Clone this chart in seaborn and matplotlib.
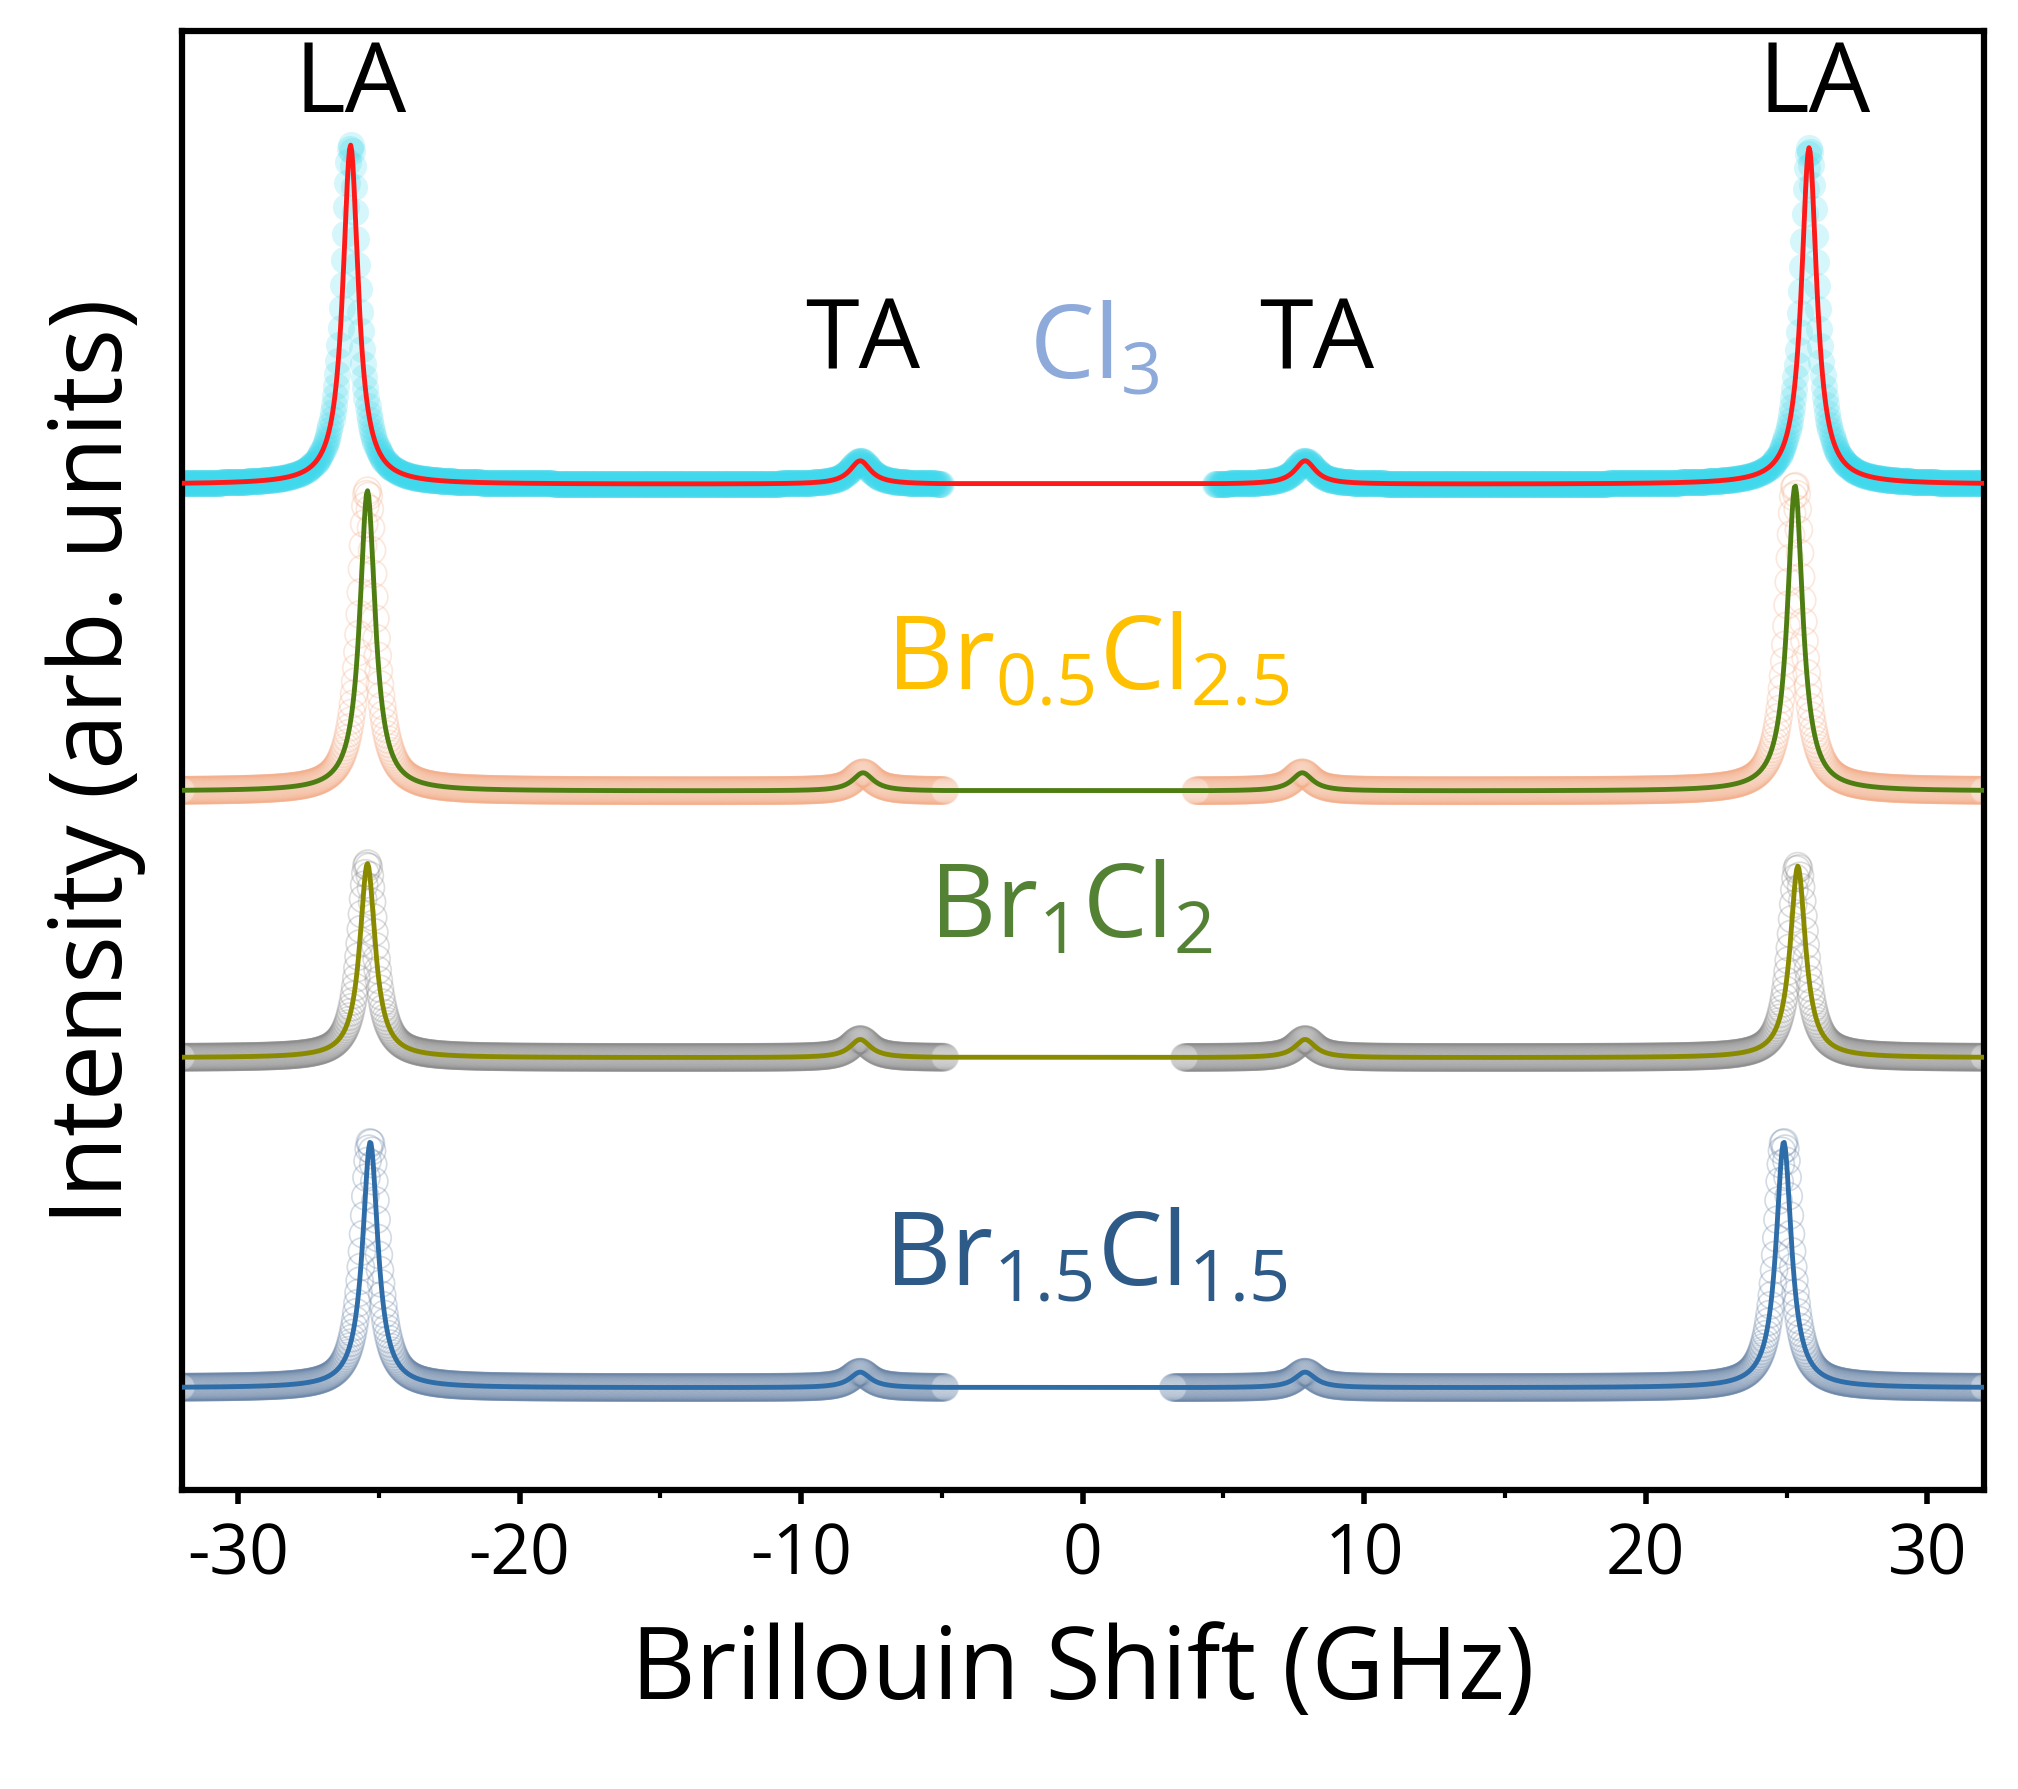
import numpy as np
import pandas as pd
import matplotlib
matplotlib.use("Agg")
import matplotlib.pyplot as plt
import seaborn as sns

# Fitted peak parameters (GHz, arbitrary intensity units)
samples = ["Cl3", "Br0.5Cl2.5", "Br1Cl2", "Br1.5Cl1.5"]
baselines = [777, 540, 334, 79]
la_neg = [-26.0, -25.4, -25.4, -25.3]
la_pos = [25.8, 25.3, 25.4, 24.9]
la_height_neg = [262, 232, 150, 190]
la_height_pos = [260, 236, 148, 190]
ta_pos = [7.9, 7.8, 7.9, 7.9]
ta_height = [18, 14, 14, 12]
gap_lo = [-5.0, -4.9, -4.9, -4.9]
gap_hi = [4.7, 4.0, 3.6, 3.2]
fit_colors = ["#ff1a1a", "#4e7d12", "#8a8a00", "#2f6da8"]
marker_edge = ["#40d8ec", "#f4b08c", "#8c8c8c", "#6b86a8"]
marker_face = ["#40d8ec", "none", "none", "none"]
labels = [r"Cl$_3$", r"Br$_{0.5}$Cl$_{2.5}$", r"Br$_1$Cl$_2$", r"Br$_{1.5}$Cl$_{1.5}$"]
label_colors = ["#8eaadb", "#ffc000", "#548235", "#2e5a88"]
label_x = [0.4, 0.2, -0.4, 0.1]
label_y = [880, 640, 448, 180]
x_ticks = [-30, -20, -10, 0, 10, 20, 30]

def lor(x, x0, h, w=0.33):
    return h * w**2 / ((x - x0)**2 + w**2)

fig = plt.figure(figsize=(20.18, 17.90), dpi=100)
ax = fig.add_axes([0.090, 0.167, 0.893, 0.815])
font = "Open Sans"
plt.rcParams["mathtext.fontset"] = "custom"
plt.rcParams["mathtext.rm"] = font
plt.rcParams["mathtext.it"] = font
plt.rcParams["mathtext.bf"] = font + ":bold"

xs = np.linspace(-32, 32, 1600)
for i in range(4):
    model = (baselines[i] + lor(xs, la_neg[i], la_height_neg[i]) + lor(xs, la_pos[i], la_height_pos[i])
             + lor(xs, -ta_pos[i], ta_height[i], 0.45) + lor(xs, ta_pos[i], ta_height[i], 0.45))
    mask = (xs < gap_lo[i]) | (xs > gap_hi[i])
    d = pd.DataFrame({"x": xs[mask], "y": model[mask]})
    if marker_face[i] == "none":
        ax.scatter(d.x, d.y, s=380, facecolors="none", edgecolors=marker_edge[i],
                   linewidths=1.2, alpha=0.3, zorder=2)
    else:
        ax.scatter(d.x, d.y, s=380, color=marker_edge[i], alpha=0.22, linewidths=0, zorder=2)
    fitx = np.concatenate([xs[xs < gap_lo[i]], xs[xs > gap_hi[i]]])
    fity = np.concatenate([model[xs < gap_lo[i]], model[xs > gap_hi[i]]])
    sns.lineplot(x=fitx, y=fity, ax=ax, color=fit_colors[i], lw=3.5, zorder=3, sort=False)
    ax.text(label_x[i], label_y[i], labels[i], color=label_colors[i], fontsize=74,
            ha="center", va="center", family=font)

ax.text(-26.0, 1085, "LA", fontsize=70, ha="center", va="center", family=font)
ax.text(26.0, 1085, "LA", fontsize=70, ha="center", va="center", family=font)
ax.text(-7.8, 887, "TA", fontsize=70, ha="center", va="center", family=font)
ax.text(8.3, 887, "TA", fontsize=70, ha="center", va="center", family=font)

ax.set_xlim(-32, 32)
ax.set_ylim(0, 1127)
ax.set_xticks(x_ticks)
ax.set_xticklabels([str(t) for t in x_ticks], family=font, fontsize=50)
ax.set_xticks(np.arange(-25, 31, 10), minor=True)
ax.set_yticks([])
ax.tick_params(axis="x", which="major", length=10, width=4, direction="out", pad=12)
ax.tick_params(axis="x", which="minor", length=6, width=3, direction="out")
for s in ax.spines.values():
    s.set_linewidth(4.5)
ax.set_xlabel("Brillouin Shift (GHz)", family=font, fontsize=72, labelpad=22)
ax.set_ylabel("Intensity (arb. units)", family=font, fontsize=72, labelpad=26)
fig.savefig("out.png", dpi=100)
